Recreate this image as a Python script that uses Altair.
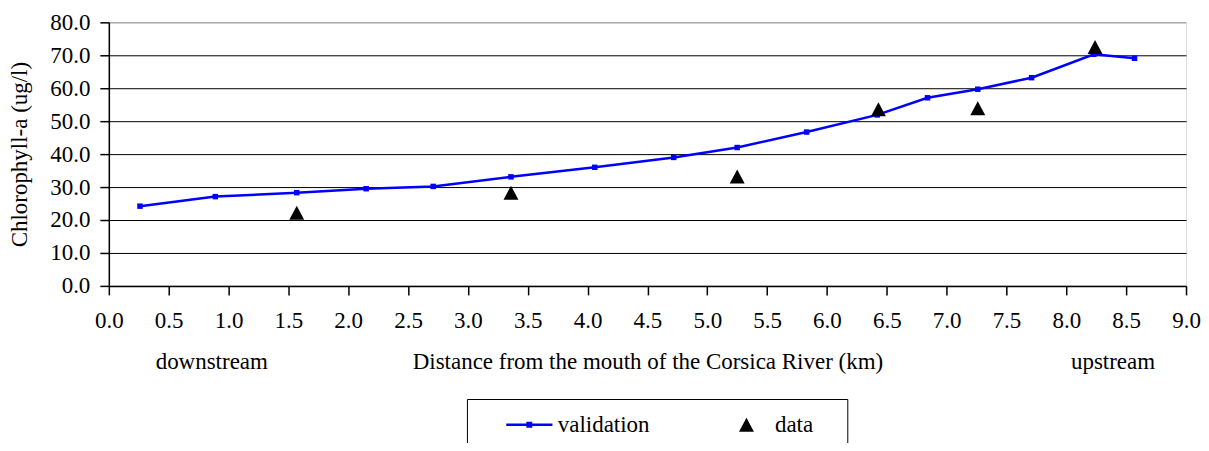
import altair as alt
import pandas as pd

# ---- data ----
val_x = [0.26, 0.89, 1.57, 2.15, 2.71, 3.36, 4.06, 4.72, 5.25, 5.83, 6.42, 6.84, 7.26, 7.71, 8.23, 8.57]
val_y = [24.2, 27.1, 28.3, 29.5, 30.2, 33.1, 36.0, 39.0, 42.0, 46.7, 51.9, 57.1, 59.7, 63.2, 70.3, 69.1]

obs_x = [1.57, 3.36, 5.25, 6.43, 7.26, 8.24]
obs_y = [22.2, 28.3, 33.2, 53.6, 53.9, 72.5]

series_names = ["validation", "data"]
series_colors = ["#0000ff", "#000000"]

x_ticks = [0.0, 0.5, 1.0, 1.5, 2.0, 2.5, 3.0, 3.5, 4.0, 4.5, 5.0, 5.5, 6.0, 6.5, 7.0, 7.5, 8.0, 8.5, 9.0]
y_ticks = [0, 10, 20, 30, 40, 50, 60, 70, 80]

side_labels = ["downstream", "upstream"]
side_label_x = [0.86, 8.39]

FONT = "Liberation Serif"
FS = 23
W, H = 1079, 264

val_df = pd.DataFrame({"x": val_x, "y": val_y, "series": series_names[0]})
obs_df = pd.DataFrame({"x": obs_x, "y": obs_y, "series": series_names[1]})
side_df = pd.DataFrame({"x": side_label_x, "label": side_labels})

LINE_PATH = ("M-2.1,-0.11L2.1,-0.11L2.1,0.11L-2.1,0.11Z "
             "M-0.27,-0.27L0.27,-0.27L0.27,0.27L-0.27,0.27Z")
TRI_PATH = "M0,-0.64L0.68,0.64L-0.68,0.64Z"

x_scale = alt.Scale(domain=[0, 9], nice=False, zero=False)
y_scale = alt.Scale(domain=[0, 80], nice=False)

x_axis = alt.Axis(
    values=x_ticks, format=".1f", grid=False,
    title="Distance from the mouth of the Corsica River (km)",
    titleY=83, titleBaseline="alphabetic", titleFontWeight="normal",
    titleFontSize=FS, titleFont=FONT, titleColor="black",
    labelFontSize=FS, labelFont=FONT, labelColor="black", labelPadding=15,
    tickSize=9, tickColor="black", tickWidth=1.5,
    domainColor="black", domainWidth=1.5,
    labelFlush=False, labelOverlap=False,
)
y_axis = alt.Axis(
    values=y_ticks, format=".1f",
    title="Chlorophyll-a (ug/l)",
    titleX=-89, titleY=132, titleBaseline="middle", titleAngle=270,
    titleFontWeight="normal", titleFontSize=FS, titleFont=FONT, titleColor="black",
    labelFontSize=FS, labelFont=FONT, labelColor="black", labelPadding=10,
    tickSize=9, tickColor="black", tickWidth=1.5,
    domainColor="black", domainWidth=1.5,
    grid=True,
    gridColor=alt.condition("datum.value == 80", alt.value("#8c8c8c"), alt.value("black")),
    gridWidth=1,
    labelFlush=False, labelOverlap=False,
)


def xy():
    return dict(
        x=alt.X("x:Q", scale=x_scale, axis=x_axis),
        y=alt.Y("y:Q", scale=y_scale, axis=y_axis),
    )


legend_props = dict(
    title="\u00a0", titleOrient="right", titlePadding=20, titleFontSize=FS, titleFont=FONT,
    titleColor="white",
    orient="none", legendX=358.7, legendY=377.3, direction="horizontal",
    strokeColor="black", padding=14, fillColor="white",
    labelFont=FONT, labelFontSize=FS, labelColor="black",
    symbolSize=484, symbolStrokeWidth=0, symbolOffset=37, labelOffset=17,
    columnPadding=48.5,
)

line = alt.Chart(val_df).mark_line(color="#0000ff", strokeWidth=2.5).encode(**xy())
markers = alt.Chart(val_df).mark_square(color="#0000ff", size=30, opacity=1).encode(**xy())

tri = alt.Chart(obs_df).mark_point(filled=True, size=484, opacity=1, strokeWidth=0).encode(
    **xy(),
    color=alt.Color("series:N", scale=alt.Scale(domain=series_names, range=series_colors),
                    legend=alt.Legend(**legend_props)),
    shape=alt.Shape("series:N", scale=alt.Scale(domain=series_names, range=[LINE_PATH, TRI_PATH]),
                    legend=alt.Legend(**legend_props)),
)

side = alt.Chart(side_df).mark_text(
    font=FONT, fontSize=FS, color="black", baseline="alphabetic", align="center", clip=False
).encode(x=alt.X("x:Q", scale=x_scale, axis=x_axis), y=alt.value(H + 83), text="label:N")

chart = alt.layer(line, markers, tri, side).properties(
    width=W, height=H,
    autosize=alt.AutoSizeParams(type="none"),
    padding={"left": 101, "top": 14, "right": 15, "bottom": 157},
).configure_view(
    stroke="#8c8c8c", strokeWidth=2
).configure(font=FONT)

chart.save("out.html", embed_options={"renderer": "svg", "actions": False})
